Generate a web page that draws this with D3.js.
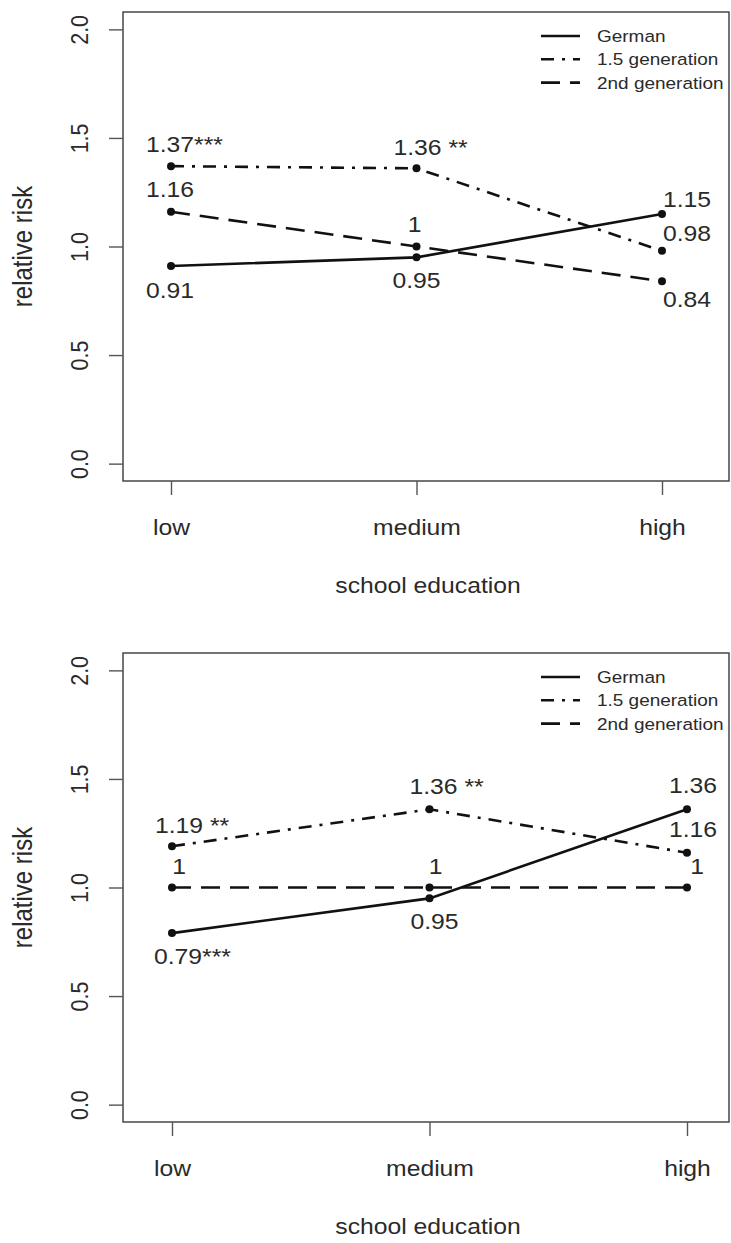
<!DOCTYPE html>
<html lang="en">
<head>
<meta charset="UTF-8">
<title>relative risk by school education</title>
<script src="https://d3js.org/d3.v7.min.js"></script>
<style>
    body { margin: 0; background: #fff; }
    text { font-family: "Liberation Sans", Arial, Helvetica, sans-serif; fill: #2a2a2a; }
</style>
</head>
<body>
<svg id="chart" width="731" height="1243"></svg>
<script>
// data
const categories = ["low", "medium", "high"];
const seriesNames = ["German", "1.5 generation", "2nd generation"];
const yTickValues = [0, 0.5, 1, 1.5, 2];
const yTickLabels = ["0.0", "0.5", "1.0", "1.5", "2.0"];
const xTitle = "school education";
const yTitle = "relative risk";

// upper panel
const topGerman = [0.91, 0.95, 1.15];
const topGen15 = [1.37, 1.36, 0.98];
const topGen2 = [1.16, 1.00, 0.84];
const topGermanText = ["0.91", "0.95", "1.15"];
const topGen15Text = ["1.37", "1.36", "0.98"];
const topGen2Text = ["1.16", "1", "0.84"];
const topGermanStars = ["", "", ""];
const topGen15Stars = ["***", " **", ""];
const topGen2Stars = ["", "", ""];

// lower panel
const botGerman = [0.79, 0.95, 1.36];
const botGen15 = [1.19, 1.36, 1.16];
const botGen2 = [1, 1, 1];
const botGermanText = ["0.79", "0.95", "1.36"];
const botGen15Text = ["1.19", "1.36", "1.16"];
const botGen2Text = ["1", "1", "1"];
const botGermanStars = ["***", "", ""];
const botGen15Stars = [" **", " **", ""];
const botGen2Stars = ["", "", ""];

// line types: solid, dotdash, dashed
const dashes = [null, "13,8,3,8", "19,10"];

// where each value label sits relative to its point (dx of number centre, dy of baseline)
const panels = [
    {
        top: 12, xLow: 171, xHigh: 662,
        series: [topGerman, topGen15, topGen2],
        text: [topGermanText, topGen15Text, topGen2Text],
        stars: [topGermanStars, topGen15Stars, topGen2Stars],
        offsets: [
            [[-1, 32], [0, 31], [25, -7]],
            [[-1, -14], [1, -13], [25, -10]],
            [[-1, -15], [-2, -15], [25, 26]]
        ]
    },
    {
        top: 653, xLow: 172, xHigh: 687,
        series: [botGerman, botGen15, botGen2],
        text: [botGermanText, botGen15Text, botGen2Text],
        stars: [botGermanStars, botGen15Stars, botGen2Stars],
        offsets: [
            [[6, 31], [5, 31], [6, -16]],
            [[7, -13], [4, -15], [6, -16]],
            [[7, -14], [6, -14], [10, -14]]
        ]
    }
];

const boxLeft = 123, boxRight = 729, boxHeight = 469;
const sx = 1.15;          // the picture is a bit wider than tall
const fontMain = 21.5, fontLegend = 16.5, fontYTitle = 24;

const svg = d3.select("#chart");

// stretched text helper
function label(g, x, y, str, size, anchor, rotate) {
    return g.append("text")
        .attr("transform", `translate(${x},${y}) scale(${sx},1)` + (rotate ? " rotate(-90)" : ""))
        .attr("text-anchor", anchor)
        .style("font-size", size + "px")
        .text(str);
}

panels.forEach(p => {
    const g = svg.append("g");
    const y = d3.scaleLinear().domain([-0.08, 2.08]).range([p.top + boxHeight, p.top]);
    const x = d3.scaleLinear().domain([0, 2]).range([p.xLow, p.xHigh]);
    const bottom = p.top + boxHeight;

    // box
    g.append("rect")
        .attr("x", boxLeft).attr("y", p.top)
        .attr("width", boxRight - boxLeft).attr("height", boxHeight)
        .attr("fill", "none").attr("stroke", "#3a3a3a").attr("stroke-width", 1.4);

    // y axis
    const yAxis = g.append("g").attr("transform", `translate(${boxLeft},0)`)
        .call(d3.axisLeft(y).tickValues(yTickValues).tickSize(14).tickSizeOuter(0)
            .tickFormat((d, i) => yTickLabels[i]));
    yAxis.select(".domain").remove();
    yAxis.selectAll(".tick line").attr("stroke", "#555").attr("stroke-width", 1.4);
    yAxis.selectAll(".tick text").remove();
    yAxis.selectAll(".tick").each(function(d, i) {
        label(d3.select(this), -35, 0, yTickLabels[i], fontMain, "middle", true);
    });

    // x axis
    const xAxis = g.append("g").attr("transform", `translate(0,${bottom})`)
        .call(d3.axisBottom(x).tickValues([0, 1, 2]).tickSize(14).tickSizeOuter(0)
            .tickFormat(i => categories[i]));
    xAxis.select(".domain").remove();
    xAxis.selectAll(".tick line").attr("stroke", "#555").attr("stroke-width", 1.4);
    xAxis.selectAll(".tick text").remove();
    xAxis.selectAll(".tick").each(function(d) {
        label(d3.select(this), 0, 54, categories[d], fontMain, "middle", false);
    });

    // titles
    label(g, (boxLeft + boxRight) / 2 + 2, bottom + 112, xTitle, fontMain, "middle", false);
    label(g, 32, p.top + boxHeight / 2, yTitle, fontYTitle, "middle", true);

    // lines + points
    const line = d3.line().x((d, i) => x(i)).y(d => y(d));
    p.series.forEach((vals, s) => {
        g.append("path").datum(vals)
            .attr("d", line)
            .attr("fill", "none")
            .attr("stroke", "#111")
            .attr("stroke-width", 2.6)
            .attr("stroke-dasharray", dashes[s]);
        g.selectAll(null).data(vals).join("circle")
            .attr("cx", (d, i) => x(i))
            .attr("cy", d => y(d))
            .attr("r", 4)
            .attr("fill", "#111");
    });

    // value labels
    p.series.forEach((vals, s) => {
        vals.forEach((v, i) => {
            const [dx, dy] = p.offsets[s][i];
            const cx = x(i) + dx, by = y(v) + dy;
            const t = label(g, cx, by, p.text[s][i], fontMain, "middle", false);
            const star = p.stars[s][i];
            if (star) {
                const w = t.node().getComputedTextLength() * sx;
                label(g, cx + w / 2, by, star, fontMain, "start", false)
                    .style("white-space", "pre");
            }
        });
    });

    // legend
    const lg = g.append("g");
    seriesNames.forEach((name, s) => {
        const ly = p.top + 24 + s * 23.3;
        lg.append("line")
            .attr("x1", 541).attr("x2", 580)
            .attr("y1", ly).attr("y2", ly)
            .attr("stroke", "#111").attr("stroke-width", 2.6)
            .attr("stroke-dasharray", dashes[s]);
        label(lg, 597, ly + 6, name, fontLegend, "start", false);
    });
});
</script>
</body>
</html>
